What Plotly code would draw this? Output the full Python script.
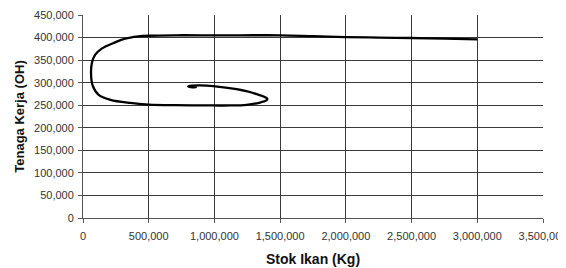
import plotly.graph_objects as go

stok_ikan = [3000000, 2750000, 2500000, 2250000, 2000000, 1750000, 1500000, 1200000, 900000,
             700000, 500000, 420000, 360000, 290000, 233000, 145000, 93000, 68000, 61000, 73000,
             119000, 209000, 360000, 500000, 700000, 991000, 1118000, 1245000, 1347000, 1395000,
             1402000, 1322000, 1169000, 991000, 890000, 830000, 800000, 820000, 860000, 850000,
             820000]
tenaga_kerja = [396000, 397500, 399000, 400000, 401000, 403000, 405000, 405000, 405000,
                405000, 404000, 402500, 400000, 395000, 388000, 376000, 362000, 344000, 322000, 294000,
                273000, 262000, 255000, 251500, 250000, 249500, 249500, 251000, 256000, 260500,
                264500, 274500, 285500, 292500, 294000, 293500, 292000, 290000, 290500, 292500,
                292000]

x_ticks = list(range(0, 3500001, 500000))
y_ticks = list(range(0, 450001, 50000))

fig = go.Figure()
fig.add_trace(go.Scatter(x=stok_ikan, y=tenaga_kerja, mode="lines",
                         line=dict(color="black", width=2.3, shape="spline", smoothing=1.0),
                         showlegend=False, hoverinfo="skip"))

axis_common = dict(showgrid=True, gridcolor="#3a3a3a", gridwidth=1,
                   showline=True, linecolor="#555", linewidth=1, mirror=False,
                   ticks="outside", ticklen=4, tickcolor="#555",
                   tickfont=dict(family="Liberation Sans, Arial", size=11, color="#333"),
                   zeroline=False, tickformat=",d", automargin=False,
                   ticklabeloverflow="allow")

fig.update_xaxes(range=[0, 3500000], tickvals=x_ticks, ticklabelstandoff=4,
                 title=dict(text="<b>Stok Ikan (Kg)</b>", standoff=12,
                            font=dict(family="Liberation Sans, Arial", size=14, color="#111")),
                 **axis_common)
fig.update_yaxes(range=[0, 450000], tickvals=y_ticks, ticklabelstandoff=2,
                 title=dict(text="<b>Tenaga Kerja (OH)</b>", standoff=6,
                            font=dict(family="Liberation Sans, Arial", size=13, color="#111")),
                 **axis_common)

# page body has an 8px margin; size the figure so the plot area lands where the reference's does
fig.update_layout(width=558, height=260, margin=dict(l=75, r=23, t=7, b=50),
                  plot_bgcolor="white", paper_bgcolor="white")

fig.write_html("out.html")
